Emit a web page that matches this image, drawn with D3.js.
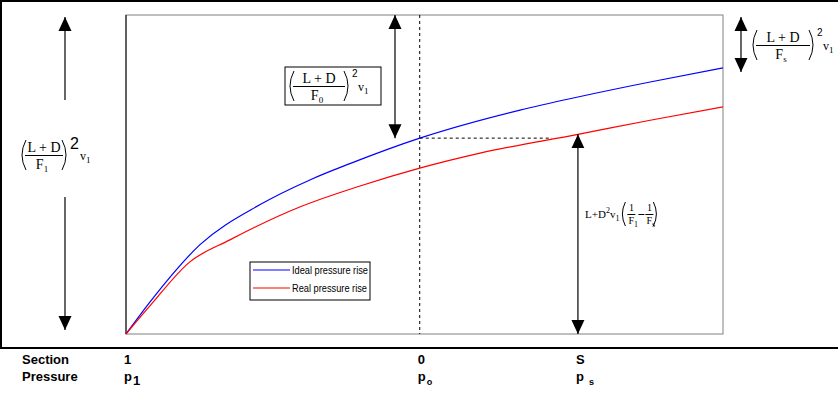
<!DOCTYPE html>
<html lang="en">
<head>
<meta charset="UTF-8">
<title>Diffuser pressure rise</title>
<script src="https://d3js.org/d3.v7.min.js"></script>
<style>
  body { margin: 0; background: #fff; }
  svg { display: block; }
  .formula { font-family: "Liberation Serif", serif; font-size: 14px; }
  .axislab { font-family: "Liberation Sans", Arial, sans-serif; font-size: 13px; font-weight: bold; }
  .legend text { font-family: "Liberation Sans", Arial, sans-serif; font-size: 11px; }
</style>
</head>
<body>
<svg id="chart" width="839" height="395"></svg>
<script>
// position along the duct (0 = section 1, 100 = right end) and pressure rise (0..100)
const idealX = [0, 4, 12.4, 22.4, 30.8, 37.5, 49.2, 66, 75.7, 87.8, 100];
const idealP = [0, 10, 28, 40.5, 48.3, 53.4, 61.4, 70.2, 74.3, 79, 83.4];
const realX = [0, 4, 10.7, 17.4, 29.1, 39.2, 49.2, 59.3, 75.7, 87.8, 100];
const realP = [0, 8.8, 22.6, 29.5, 39.8, 46.4, 52.0, 56.7, 62.6, 67.0, 71.2];

const sections = ["1", "0", "S"];
const sectionX = [0, 49.2, 75.7];
const pressureSub = ["1", "o", "s"];

const seriesNames = ["Ideal pressure rise", "Real pressure rise"];
const seriesColors = ["#0000ff", "#ff0000"];

const svg = d3.select("#chart");
const x = d3.scaleLinear().domain([0, 100]).range([126, 723]);
const y = d3.scaleLinear().domain([0, 100]).range([334, 15]);

// outer frame (top, left, bottom)
svg.append("path")
    .attr("d", "M838,1H1V348H838")
    .attr("fill", "none").attr("stroke", "#000").attr("stroke-width", 2);

// plot frame
svg.append("rect")
    .attr("x", x(0)).attr("y", y(100))
    .attr("width", x(100) - x(0)).attr("height", y(0) - y(100))
    .attr("fill", "none").attr("stroke", "#808080");
svg.append("line")
    .attr("x1", x(0)).attr("x2", x(0)).attr("y1", y(100)).attr("y2", y(0))
    .attr("stroke", "#000");

// arrow markers
const defs = svg.append("defs");
defs.append("marker")
    .attr("id", "head")
    .attr("markerUnits", "userSpaceOnUse")
    .attr("viewBox", "0 -7 14 14")
    .attr("refX", 14).attr("refY", 0)
    .attr("markerWidth", 14).attr("markerHeight", 14)
    .attr("orient", "auto-start-reverse")
    .append("path").attr("d", "M0,-6.5L14,0L0,6.5Z").attr("fill", "#000");

function arrow(x1, y1, x2, y2, start, end) {
  const l = svg.append("line")
      .attr("x1", x1).attr("y1", y1).attr("x2", x2).attr("y2", y2)
      .attr("stroke", "#000").attr("stroke-width", 1.2);
  if (start) l.attr("marker-start", "url(#head)");
  if (end) l.attr("marker-end", "url(#head)");
}

// dashed reference lines at section 0
const x0 = x(sectionX[1]);
svg.append("line")
    .attr("x1", x0).attr("x2", x0).attr("y1", y(100)).attr("y2", y(0))
    .attr("stroke", "#000").attr("stroke-dasharray", "3,3");
const p0 = idealP[idealX.indexOf(sectionX[1])];
// where the real curve reaches the same pressure
let xr = 0;
for (let i = 1; i < realX.length; i++) {
  if (realP[i] >= p0) {
    xr = realX[i - 1] + (p0 - realP[i - 1]) / (realP[i] - realP[i - 1]) * (realX[i] - realX[i - 1]);
    break;
  }
}
svg.append("line")
    .attr("x1", x0).attr("x2", x(xr) - 6).attr("y1", y(p0)).attr("y2", y(p0))
    .attr("stroke", "#000").attr("stroke-dasharray", "3,3");

// curves
const line = d3.line().curve(d3.curveMonotoneX).x(d => x(d[0])).y(d => y(d[1]));
[[idealX, idealP], [realX, realP]].forEach((s, i) => {
  svg.append("path")
      .datum(d3.zip(s[0], s[1]))
      .attr("fill", "none")
      .attr("stroke", seriesColors[i])
      .attr("stroke-width", 1.2)
      .attr("d", line);
});

// arrows
arrow(65, 100, 65, y(100) + 2, false, true);
arrow(65, 197, 65, y(0) - 4, false, true);
arrow(395, y(100), 395, y(p0), true, true);
arrow(741, 17, 741, y(idealP[idealP.length - 1]) + 4, true, true);
const pS = realP[realX.indexOf(sectionX[2])];
arrow(x(sectionX[2]), y(pS), x(sectionX[2]), y(0), true, true);

// fraction formula (L + D / F_sub)^2 v1
function formula(left, cy, sub, fracW, big) {
  const g = svg.append("g").attr("class", "formula");
  const paren = (px, dir) => g.append("path")
      .attr("d", `M${px + 5 * dir},${cy - 15}Q${px - 3 * dir},${cy} ${px + 5 * dir},${cy + 15}`)
      .attr("fill", "none").attr("stroke", "#000");
  paren(left, 1);
  const cx = left + 5 + fracW / 2;
  g.append("text").attr("x", cx).attr("y", cy - 3).attr("text-anchor", "middle").text("L + D");
  g.append("line").attr("x1", left + 4).attr("x2", left + 6 + fracW)
      .attr("y1", cy + 0.5).attr("y2", cy + 0.5).attr("stroke", "#000");
  const t = g.append("text").attr("x", cx - 2).attr("y", cy + 14).attr("text-anchor", "middle");
  t.append("tspan").text("F");
  t.append("tspan").attr("dy", 3).attr("font-size", 9).text(sub);
  const right = left + 10 + fracW;
  paren(right, -1);
  g.append("text").attr("x", right + 3).attr("y", cy - (big ? 6 : 9))
      .attr("font-family", "Liberation Sans, Arial, sans-serif")
      .attr("font-size", big ? 16 : 10).text("2");
  const v = g.append("text").attr("x", right + (big ? 13 : 9)).attr("y", cy + 5).attr("font-size", 12);
  v.append("tspan").text("v");
  v.append("tspan").attr("dy", 3).attr("font-size", 9).text("1");
  return g;
}

formula(21, 155, "1", 36, true);
svg.append("rect").attr("x", 285).attr("y", 67).attr("width", 96).attr("height", 38)
    .attr("fill", "none").attr("stroke", "#000");
formula(289, 86, "0", 50, false);
formula(752, 45, "s", 52, false);

// L+D^2 v1 (1/F1 - 1/Fs), laid out left to right
{
  const g = svg.append("g").attr("class", "formula");
  const cy = 214;
  let cur = 585;
  const put = (str, size, dy) => {
    const t = g.append("text").attr("x", cur).attr("y", cy + 4 + dy).attr("font-size", size).text(str);
    cur += t.node().getComputedTextLength();
    return t;
  };
  put("L+D", 11, 0);
  put("2", 8, -5);
  put("v", 11, 0);
  put("1", 8, 3);
  cur += 2;
  const paren = (px, dir) => g.append("path")
      .attr("d", `M${px + 4 * dir},${cy - 12}Q${px - 2 * dir},${cy} ${px + 4 * dir},${cy + 12}`)
      .attr("fill", "none").attr("stroke", "#000");
  paren(cur, 1);
  cur += 6;
  const frac = sub => {
    const c = cur + 4;
    g.append("text").attr("x", c).attr("y", cy - 3).attr("text-anchor", "middle").attr("font-size", 10).text("1");
    g.append("line").attr("x1", c - 4).attr("x2", c + 4).attr("y1", cy + 0.5).attr("y2", cy + 0.5).attr("stroke", "#000");
    const f = g.append("text").attr("x", c - 3).attr("y", cy + 10).attr("font-size", 10);
    f.append("tspan").text("F");
    f.append("tspan").attr("dy", 3).attr("font-size", 8).text(sub);
    cur += 10;
  };
  frac("1");
  g.append("line").attr("x1", cur + 1).attr("x2", cur + 7).attr("y1", cy + 0.5).attr("y2", cy + 0.5).attr("stroke", "#000");
  cur += 8;
  frac("s");
  paren(cur + 2, -1);
}

// legend
const lg = svg.append("g").attr("class", "legend");
lg.append("rect").attr("x", 250).attr("y", 262).attr("width", 120).attr("height", 38)
    .attr("fill", "#fff").attr("stroke", "#000");
seriesNames.forEach((n, i) => {
  const ly = 270 + i * 18;
  lg.append("line").attr("x1", 253).attr("x2", 290).attr("y1", ly).attr("y2", ly)
      .attr("stroke", seriesColors[i]).attr("stroke-width", 1.2);
  const t = lg.append("text").attr("x", 292).attr("y", ly + 4).text(n);
  const w = t.node().getComputedTextLength();
  t.attr("textLength", w * 0.84).attr("lengthAdjust", "spacingAndGlyphs");
});

// section / pressure labels under the plot
svg.append("text").attr("class", "axislab").attr("x", 22).attr("y", 364).text("Section");
svg.append("text").attr("class", "axislab").attr("x", 22).attr("y", 381).text("Pressure");
sections.forEach((s, i) => {
  const px = x(sectionX[i]) - 2;
  svg.append("text").attr("class", "axislab").attr("x", px).attr("y", 364).text(s);
  const t = svg.append("text").attr("class", "axislab").attr("x", px).attr("y", 381);
  t.append("tspan").text("p");
  t.append("tspan").attr("dx", i === 2 ? 5 : 1).attr("dy", 4)
      .attr("font-size", i === 0 ? 13 : 9).text(pressureSub[i]);
});
</script>
</body>
</html>
